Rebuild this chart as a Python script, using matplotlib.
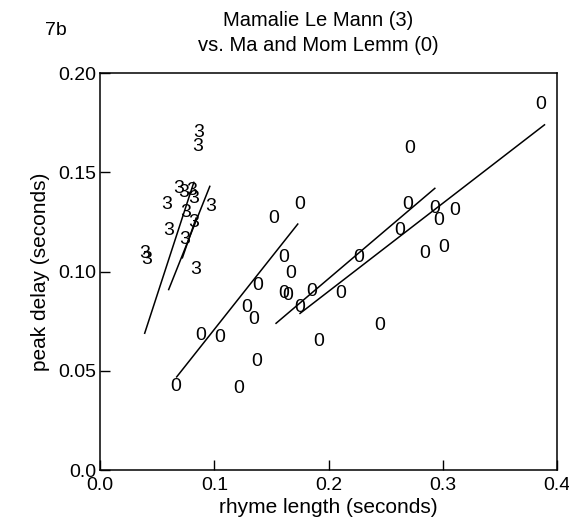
import matplotlib.pyplot as plt
from matplotlib.ticker import FixedLocator, FixedFormatter

plt.rcParams['font.family'] = ['Liberation Sans', 'DejaVu Sans']

# Mamalie Le Mann (3): rhyme length, peak delay (seconds)
x_3 = [0.086, 0.085, 0.069, 0.073, 0.080, 0.082, 0.058, 0.097, 0.075, 0.082,
       0.060, 0.074, 0.039, 0.041, 0.084]
y_3 = [0.170, 0.163, 0.142, 0.140, 0.141, 0.137, 0.134, 0.133, 0.130, 0.125,
       0.121, 0.116, 0.109, 0.106, 0.101]

# Ma and Mom Lemm (0)
x_0 = [0.066, 0.121, 0.088, 0.105, 0.137, 0.128, 0.134, 0.138, 0.152, 0.175,
       0.161, 0.167, 0.161, 0.164, 0.175, 0.185, 0.211, 0.191, 0.226, 0.245,
       0.269, 0.293, 0.310, 0.296, 0.262, 0.284, 0.301, 0.271, 0.386]
y_0 = [0.042, 0.041, 0.068, 0.067, 0.055, 0.082, 0.076, 0.093, 0.127, 0.134,
       0.107, 0.099, 0.089, 0.088, 0.082, 0.090, 0.089, 0.065, 0.107, 0.073,
       0.134, 0.132, 0.131, 0.126, 0.121, 0.109, 0.112, 0.162, 0.184]

# fitted lines (start x, end x, start y, end y)
fit_x0 = [0.039, 0.060, 0.072, 0.067, 0.154, 0.175]
fit_x1 = [0.082, 0.096, 0.084, 0.173, 0.293, 0.389]
fit_y0 = [0.069, 0.091, 0.107, 0.047, 0.074, 0.079]
fit_y1 = [0.145, 0.143, 0.127, 0.124, 0.142, 0.174]

x_ticks = [0.0, 0.1, 0.2, 0.3, 0.4]
x_ticklabels = ['0.0', '0.1', '0.2', '0.3', '0.4']
y_ticks = [0.0, 0.05, 0.10, 0.15, 0.20]
y_ticklabels = ['0.0', '0.05', '0.10', '0.15', '0.20']

fig = plt.figure(figsize=(5.69, 5.23), dpi=100)
ax = fig.add_axes([0.176, 0.101, 0.803, 0.759])

for x0, x1, y0, y1 in zip(fit_x0, fit_x1, fit_y0, fit_y1):
    ax.plot([x0, x1], [y0, y1], color='black', lw=1.1)

for x, y in zip(x_3, y_3):
    ax.text(x, y, '3', ha='center', va='center', fontsize=14)
for x, y in zip(x_0, y_0):
    ax.text(x, y, '0', ha='center', va='center', fontsize=14)

ax.set_xlim(0, 0.4)
ax.set_ylim(0, 0.2)
ax.xaxis.set_major_locator(FixedLocator(x_ticks))
ax.xaxis.set_major_formatter(FixedFormatter(x_ticklabels))
ax.yaxis.set_major_locator(FixedLocator(y_ticks))
ax.yaxis.set_major_formatter(FixedFormatter(y_ticklabels))
ax.tick_params(direction='in', length=7, width=1, labelsize=14)
ax.tick_params(axis='x', pad=5)
ax.tick_params(axis='y', pad=3)
for s in ax.spines.values():
    s.set_linewidth(1.1)

ax.set_xlabel('rhyme length (seconds)', fontsize=15, labelpad=3)
ax.set_ylabel('peak delay (seconds)', fontsize=15, labelpad=6)

fig.text(0.559, 0.960, 'Mamalie Le Mann (3)', ha='center', va='center', fontsize=14.5)
fig.text(0.559, 0.913, 'vs. Ma and Mom Lemm (0)', ha='center', va='center', fontsize=14.5)
fig.text(0.098, 0.941, '7b', ha='center', va='center', fontsize=14)

fig.savefig('out.png', dpi=100)
